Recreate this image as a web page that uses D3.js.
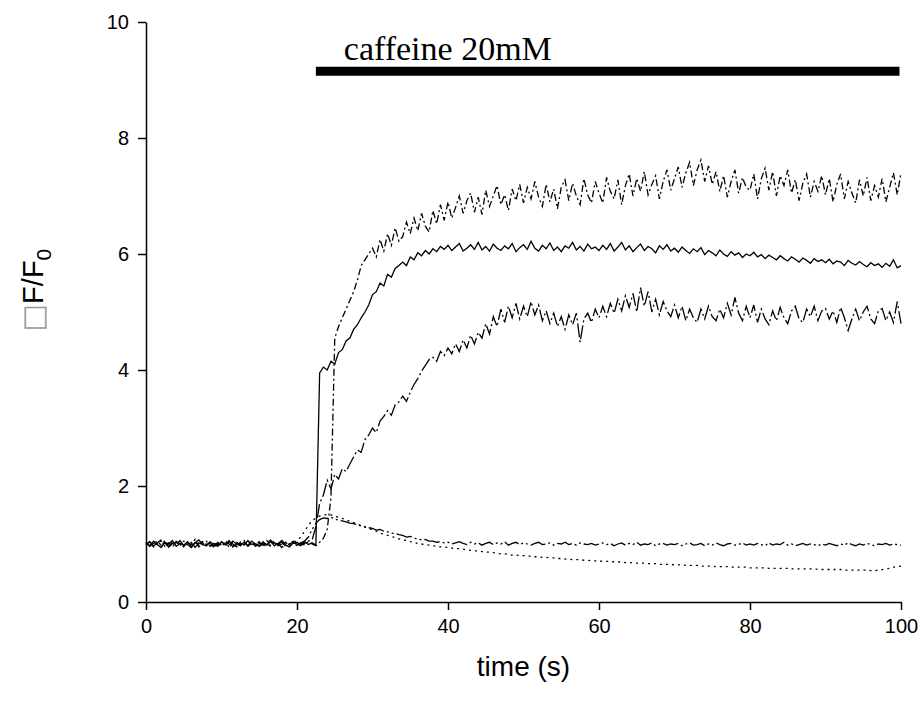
<!DOCTYPE html>
<html>
<head>
<meta charset="utf-8">
<script src="https://cdn.jsdelivr.net/npm/d3@7"></script>
<style>
html,body{margin:0;padding:0;background:#fff;}
svg{display:block;}
</style>
</head>
<body>
<svg id="chart" width="919" height="706"></svg>
<script>
// ---- data (0.5 s sampling, 0..100 s) ----
const timeStep = 0.5;
const xTicks = [0, 20, 40, 60, 80, 100];
const yTicks = [0, 2, 4, 6, 8, 10];
const xLabel = "time (s)";
const barLabel = "caffeine 20mM";
const barStart = 22.5, barEnd = 99.8, barLevel = 9.15;

// top trace (dash-dot)
const trace1 = [
0.98,1.04,0.95,1.02,1.07,0.97,1.01,0.94,1.05,1.00,0.96,1.03,0.99,1.08,0.95,1.02,0.98,1.04,0.93,1.01,
0.97,1.05,1.00,0.94,1.03,0.99,1.06,0.96,1.02,0.98,1.04,0.95,1.01,1.07,0.97,1.00,0.94,1.03,0.99,1.05,
0.96,1.02,0.98,1.04,1.00,0.97,1.03,1.10,1.25,1.80,4.55,4.75,4.90,5.05,5.20,5.35,5.55,5.80,5.90,6.00,
6.10,5.95,6.25,6.05,6.35,6.15,6.45,6.22,6.30,6.55,6.35,6.62,6.40,6.70,6.48,6.38,6.75,6.52,6.85,6.58,
6.90,6.62,6.80,7.00,6.70,6.92,7.05,6.72,6.98,6.68,7.10,6.82,7.00,7.18,6.85,7.02,6.75,7.12,6.92,7.20,
6.88,7.15,6.95,7.25,6.98,6.82,7.20,6.90,7.12,6.78,7.15,7.28,6.92,7.22,7.00,6.85,7.30,7.02,6.88,7.25,
7.05,6.88,7.32,7.08,6.95,7.28,6.85,7.18,7.38,7.00,7.30,7.08,7.42,7.02,7.20,7.35,6.95,7.25,7.45,7.10,
7.30,7.50,7.15,7.40,7.58,7.18,7.45,7.62,7.25,7.52,7.20,7.42,7.08,7.35,6.98,7.25,7.45,7.05,7.32,7.15,
7.10,7.38,6.95,7.30,7.48,7.10,7.42,7.00,7.35,7.18,7.45,7.05,7.28,6.92,7.22,7.38,6.98,7.25,7.08,7.35,
7.02,7.30,6.90,7.20,7.38,6.95,7.25,7.05,6.88,7.28,7.00,7.32,6.92,7.18,6.98,7.30,6.90,7.15,7.40,7.02,
7.40];

// middle trace (solid)
const trace2 = [
1.02,0.97,1.05,0.99,0.94,1.03,1.00,1.06,0.96,1.01,0.98,1.04,0.95,1.02,1.07,0.99,0.97,1.03,1.00,0.96,
1.04,0.99,1.06,0.95,1.01,0.98,1.03,0.97,1.05,1.00,0.96,1.02,0.99,1.04,0.97,1.01,1.06,0.98,0.95,1.02,
1.00,0.97,1.04,0.99,1.02,0.98,3.95,4.05,4.00,4.15,4.10,4.30,4.35,4.50,4.55,4.70,4.78,4.90,5.00,5.12,
5.30,5.35,5.50,5.45,5.65,5.60,5.75,5.80,5.86,5.80,5.95,5.90,6.02,5.97,6.06,6.00,6.09,6.04,6.13,6.08,
6.15,6.06,6.12,6.18,6.05,6.10,6.16,6.08,6.20,6.07,6.13,6.05,6.17,6.10,6.06,6.14,6.09,6.18,6.04,6.11,
6.16,6.08,6.22,6.10,6.05,6.15,6.09,6.19,6.06,6.12,6.04,6.14,6.10,6.20,6.07,6.13,6.05,6.17,6.09,6.12,
6.06,6.15,6.08,6.18,6.05,6.12,6.20,6.07,6.14,6.04,6.11,6.17,6.06,6.13,6.09,6.02,6.14,6.08,6.16,6.05,
6.10,6.03,6.12,6.06,6.01,6.09,6.04,6.11,5.99,6.06,6.02,5.97,6.07,6.00,5.96,6.04,5.98,6.02,5.94,6.00,
5.97,6.03,5.95,5.99,5.92,5.98,5.94,5.90,5.97,5.92,5.88,5.95,5.91,5.86,5.93,5.89,5.84,5.92,5.87,5.90,
5.85,5.91,5.83,5.88,5.86,5.80,5.89,5.84,5.81,5.87,5.82,5.78,5.85,5.80,5.83,5.77,5.84,5.79,5.90,5.76,
5.80];

// lower plateau trace (long dash-dot)
const trace3 = [
1.03,0.96,1.01,1.05,0.98,1.02,0.95,1.04,0.99,1.06,0.97,1.00,1.03,0.94,1.02,0.99,1.05,0.96,1.01,0.98,
1.02,0.97,1.04,1.00,0.95,1.03,0.98,1.06,0.99,1.01,0.96,1.04,0.98,1.02,1.05,0.97,1.00,1.03,0.96,1.01,
1.03,0.98,1.01,1.05,1.07,1.30,1.70,1.85,2.10,1.95,2.20,2.12,2.30,2.25,2.38,2.50,2.62,2.58,2.80,2.88,
3.00,2.92,3.12,3.20,3.30,3.22,3.40,3.45,3.55,3.46,3.62,3.75,3.85,3.98,4.08,4.18,4.22,4.15,4.32,4.25,
4.38,4.28,4.45,4.32,4.52,4.38,4.60,4.45,4.65,4.55,4.80,4.62,4.92,4.75,5.05,4.82,5.10,4.90,5.15,4.88,
5.10,4.92,5.18,4.95,5.12,4.85,5.02,4.80,4.98,4.75,4.92,4.70,4.95,4.78,4.98,4.48,4.88,4.98,4.82,5.05,
4.90,5.10,4.92,5.15,4.98,5.22,5.02,5.28,5.08,5.32,5.00,5.42,5.10,5.35,5.00,5.22,4.95,5.18,5.02,4.92,
5.12,4.90,5.10,4.85,5.05,4.90,4.82,5.05,4.88,5.10,4.92,4.85,5.05,4.90,5.15,4.95,5.25,4.98,4.85,5.10,
4.90,5.12,4.82,5.05,4.88,4.78,5.02,4.85,5.08,4.90,4.80,5.02,5.10,4.88,4.82,5.05,4.92,5.10,4.85,5.02,
5.06,4.88,5.02,4.82,5.08,4.90,4.68,4.88,5.05,4.85,5.00,5.10,4.88,4.80,5.02,5.06,4.85,5.00,4.82,5.18,
4.80];

// transient trace returning to baseline (dash-dot-dot)
const trace4 = [
0.99,1.04,0.96,1.02,0.98,1.06,0.95,1.01,1.03,0.97,1.05,0.99,0.94,1.02,1.00,1.04,0.97,1.01,0.96,1.03,
0.98,1.02,0.95,1.05,1.00,0.97,1.03,0.99,1.04,0.96,1.01,0.98,1.06,0.97,1.02,0.99,1.04,0.96,1.00,1.03,
0.98,1.02,1.05,1.12,1.25,1.36,1.42,1.45,1.44,1.46,1.43,1.41,1.40,1.38,1.36,1.35,1.33,1.31,1.30,1.28,
1.27,1.24,1.25,1.22,1.21,1.19,1.18,1.16,1.15,1.12,1.13,1.10,1.09,1.07,1.08,1.05,1.05,1.03,1.04,1.02,
1.03,1.00,1.02,1.04,1.01,0.99,1.03,1.00,1.02,0.98,1.01,1.03,0.99,1.02,1.00,1.04,0.98,1.01,1.03,0.99,
1.02,1.00,0.98,1.01,1.03,0.99,1.00,1.02,0.98,1.01,1.00,1.03,0.99,1.01,0.98,1.02,1.00,0.99,1.01,0.98,
1.00,1.02,0.99,1.01,0.97,1.00,1.02,0.98,1.01,0.99,1.03,0.98,1.00,0.99,1.02,0.97,1.00,1.01,0.98,1.00,
0.99,1.01,0.97,1.00,1.02,0.98,0.99,1.01,0.97,1.00,0.98,1.02,0.99,0.97,1.00,1.01,0.98,0.99,1.02,0.98,
1.00,0.98,1.01,0.99,0.97,1.02,0.98,1.00,0.99,1.03,0.98,1.00,0.97,0.99,1.01,0.98,1.00,0.99,0.97,1.00,
0.98,1.01,0.99,0.97,1.00,0.98,1.02,0.99,0.97,1.00,0.98,1.01,0.99,0.97,1.00,0.99,1.01,0.98,1.00,0.99,
0.98];

// slowly declining trace (dotted)
const trace5 = [
1.01,0.97,1.03,0.99,1.05,0.96,1.02,0.98,1.04,1.00,0.95,1.03,0.99,1.01,0.97,1.05,1.00,0.96,1.02,0.99,
1.03,0.98,1.00,1.04,0.96,1.02,0.99,1.05,0.97,1.01,1.03,0.98,1.00,0.96,1.04,1.01,0.98,1.02,1.00,1.03,
1.06,1.12,1.22,1.32,1.40,1.45,1.48,1.50,1.51,1.50,1.48,1.46,1.44,1.42,1.39,1.37,1.34,1.32,1.29,1.27,
1.24,1.22,1.19,1.17,1.15,1.13,1.11,1.09,1.07,1.06,1.04,1.03,1.01,1.00,0.99,0.98,0.97,0.96,0.95,0.95,
0.94,0.93,0.92,0.92,0.91,0.90,0.89,0.88,0.88,0.87,0.86,0.86,0.85,0.84,0.83,0.83,0.82,0.81,0.81,0.80,
0.80,0.79,0.79,0.78,0.78,0.77,0.77,0.76,0.76,0.75,0.75,0.74,0.74,0.73,0.73,0.73,0.72,0.72,0.71,0.71,
0.71,0.70,0.70,0.70,0.69,0.69,0.69,0.68,0.68,0.68,0.67,0.67,0.67,0.66,0.66,0.66,0.65,0.65,0.65,0.65,
0.64,0.64,0.64,0.63,0.63,0.63,0.63,0.62,0.62,0.62,0.62,0.61,0.61,0.61,0.61,0.60,0.60,0.60,0.60,0.60,
0.59,0.59,0.59,0.59,0.59,0.58,0.58,0.58,0.58,0.58,0.58,0.57,0.57,0.57,0.57,0.57,0.57,0.57,0.56,0.56,
0.56,0.56,0.56,0.56,0.56,0.55,0.55,0.55,0.55,0.55,0.55,0.55,0.54,0.54,0.55,0.56,0.57,0.58,0.60,0.61,
0.62];

const series = [
  {name: "trace5", values: trace5, dash: "2,4"},
  {name: "trace4", values: trace4, dash: "16,3,2,3,2,3"},
  {name: "trace3", values: trace3, dash: "14,3,2,3"},
  {name: "trace1", values: trace1, dash: "7,3,2,3"},
  {name: "trace2", values: trace2, dash: null}
];

// ---- drawing ----
const svg = d3.select("#chart");
const x = d3.scaleLinear().domain([0, 100]).range([146, 901]);
const y = d3.scaleLinear().domain([0, 10]).range([602, 22]);

const line = d3.line()
  .x((d, i) => x(i * timeStep))
  .y(d => y(d));

svg.append("g").selectAll("path")
  .data(series)
  .join("path")
  .attr("d", d => line(d.values))
  .attr("fill", "none")
  .attr("stroke", "#000")
  .attr("stroke-width", 1.3)
  .attr("stroke-dasharray", d => d.dash);

// axes
const xAxis = d3.axisBottom(x).tickValues(xTicks).tickSize(8).tickSizeOuter(0).tickPadding(9);
const yAxis = d3.axisLeft(y).tickValues(yTicks).tickSize(8).tickSizeOuter(0).tickPadding(9);

const gx = svg.append("g").attr("transform", `translate(0,${y(0)})`).call(xAxis);
const gy = svg.append("g").attr("transform", `translate(${x(0)},0)`).call(yAxis);
[gx, gy].forEach(g => {
  g.select(".domain").attr("stroke", "#000").attr("stroke-width", 1.5);
  g.selectAll(".tick line").attr("stroke", "#000").attr("stroke-width", 1.5);
  g.selectAll(".tick text").attr("fill", "#000")
    .style("font-family", "Liberation Sans, Arial, sans-serif").style("font-size", "20px");
});

// caffeine bar
svg.append("line")
  .attr("x1", x(barStart)).attr("x2", x(barEnd))
  .attr("y1", y(barLevel)).attr("y2", y(barLevel))
  .attr("stroke", "#000").attr("stroke-width", 9);
svg.append("text")
  .attr("x", x(26.2)).attr("y", 60)
  .style("font-family", "Liberation Serif, Times New Roman, serif")
  .style("font-size", "34px")
  .text(barLabel);

// axis titles
svg.append("text")
  .attr("x", (x(0) + x(100)) / 2).attr("y", 676)
  .attr("text-anchor", "middle")
  .style("font-family", "Liberation Sans, Arial, sans-serif")
  .style("font-size", "28px")
  .text(xLabel);

const yt = svg.append("text")
  .attr("transform", "translate(43,290) rotate(-90)")
  .attr("text-anchor", "middle")
  .style("font-family", "Liberation Sans, Arial, sans-serif")
  .style("font-size", "29px");
yt.append("tspan").attr("fill", "#999").style("font-family", "DejaVu Sans").text("\u25A1");
yt.append("tspan").text("F/F");
yt.append("tspan").attr("dy", 8).style("font-size", "21px").text("0");
</script>
</body>
</html>
